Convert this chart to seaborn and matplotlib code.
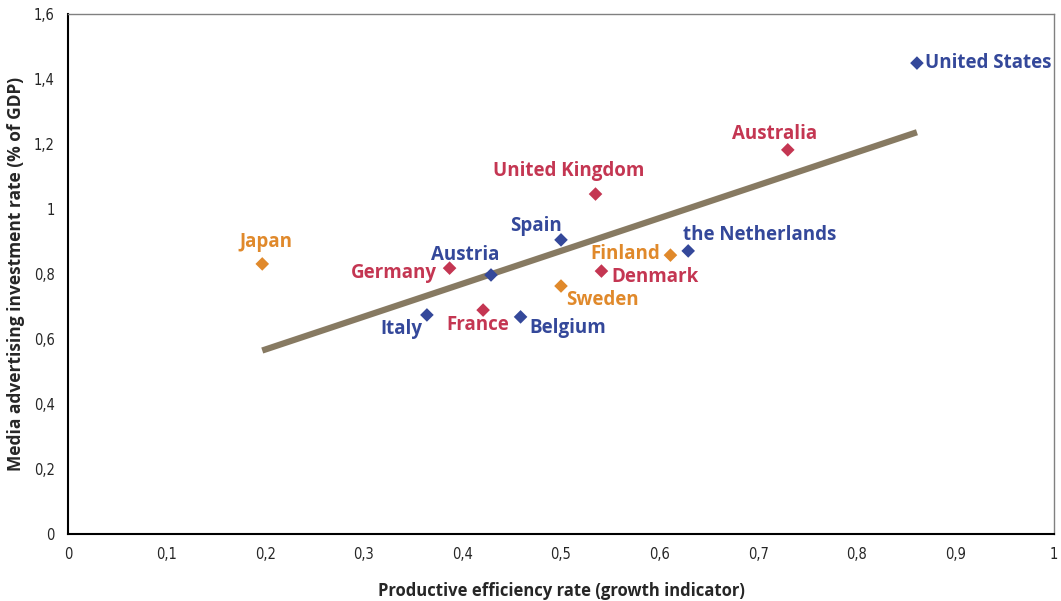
import matplotlib.pyplot as plt
import numpy as np
import pandas as pd
import seaborn as sns
from matplotlib.ticker import FuncFormatter

# Data
countries = ["Japan", "Germany", "Austria", "Italy", "France", "Belgium", "Spain",
             "Sweden", "United Kingdom", "Denmark", "Finland", "the Netherlands",
             "Australia", "United States"]
efficiency = [0.197, 0.387, 0.429, 0.364, 0.421, 0.459, 0.500,
              0.500, 0.535, 0.541, 0.611, 0.629, 0.730, 0.861]
ad_rate = [0.831, 0.818, 0.797, 0.674, 0.689, 0.668, 0.905,
           0.763, 1.046, 0.809, 0.858, 0.871, 1.182, 1.449]
group = ["orange", "red", "blue", "blue", "red", "blue", "blue",
         "orange", "red", "red", "orange", "blue", "red", "blue"]

colors = {"blue": "#34489a", "red": "#c43652", "orange": "#e0892b"}

# label placement (pixels offset, horizontal alignment)
label_pos = {
    "Japan": (4, 22, "center"),
    "Germany": (-13, -5, "right"),
    "Austria": (-26, 20, "center"),
    "Italy": (-5, -14, "right"),
    "France": (-5, -15, "center"),
    "Belgium": (9, -11, "left"),
    "Spain": (-25, 14, "center"),
    "Sweden": (5, -14, "left"),
    "United Kingdom": (-27, 23, "center"),
    "Denmark": (10, -6, "left"),
    "Finland": (-10, 1, "right"),
    "the Netherlands": (-5, 16, "left"),
    "Australia": (-13, 16, "center"),
    "United States": (8, 0, "left"),
}

df = pd.DataFrame({"country": countries, "x": efficiency, "y": ad_rate, "group": group})

sns.set_style("white")
plt.rcParams["font.family"] = ["Open Sans", "DejaVu Sans"]

fig = plt.figure(figsize=(10.61, 6.01), dpi=100)
ax = fig.add_axes([0.0641, 0.1115, 0.9293, 0.8652])

sns.regplot(data=df, x="x", y="y", ax=ax, scatter=False, ci=None, truncate=True,
            line_kws={"color": "#877a62", "lw": 4.5, "solid_capstyle": "butt"})
sns.scatterplot(data=df, x="x", y="y", hue="group", palette=colors, marker="D",
                s=48, edgecolor="none", legend=False, ax=ax, zorder=3)

for _, r in df.iterrows():
    dx, dy, ha = label_pos[r["country"]]
    ax.annotate(r["country"], (r["x"], r["y"]), xytext=(dx, dy), textcoords="offset pixels",
                ha=ha, va="center", color=colors[r["group"]], fontsize=13.5,
                fontweight="bold")

ax.set_xlim(0, 1)
ax.set_ylim(0, 1.6)
ax.set_xticks(np.arange(0, 1.01, 0.1))
ax.set_yticks(np.arange(0, 1.61, 0.2))

def comma_fmt(v, pos):
    s = f"{v:.1f}".rstrip("0").rstrip(".")
    return s.replace(".", ",")

ax.xaxis.set_major_formatter(FuncFormatter(comma_fmt))
ax.yaxis.set_major_formatter(FuncFormatter(comma_fmt))
ax.tick_params(axis="both", direction="inout", length=7, width=1, color="black",
               labelsize=10.5, pad=6)
for lab in ax.get_xticklabels() + ax.get_yticklabels():
    lab.set_fontstretch("condensed")
    lab.set_family(["DejaVu Sans"])

for side in ["left", "bottom"]:
    ax.spines[side].set_color("black")
    ax.spines[side].set_linewidth(1.5)
for side in ["top", "right"]:
    ax.spines[side].set_color("#808080")
    ax.spines[side].set_linewidth(1)

ax.set_xlabel("Productive efficiency rate (growth indicator)", fontsize=12,
              fontweight="bold", labelpad=14)
ax.set_ylabel("Media advertising investment rate (% of GDP)", fontsize=12.5,
              fontweight="bold", labelpad=6)

fig.savefig("out.png", dpi=100)
